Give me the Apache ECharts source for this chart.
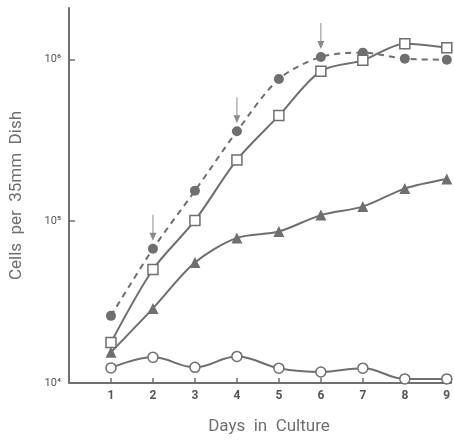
<!DOCTYPE html>
<html>
<head>
<meta charset="utf-8">
<script src="https://cdn.jsdelivr.net/npm/echarts@6/dist/echarts.min.js"></script>
<style>
    html, body { margin: 0; padding: 0; background: #fff; }
    #chart { width: 454px; height: 440px; }
</style>
</head>
<body>
<div id="chart"></div>
<script>
// days in culture
const days = [1, 2, 3, 4, 5, 6, 7, 8, 9];
// cells per dish
const filledCircles = [26000, 67500, 154000, 359000, 755000, 1035000, 1100000, 1010000, 995000];
const openSquares = [17800, 50300, 101000, 239000, 449000, 845000, 986000, 1250000, 1180000];
const filledTriangles = [15500, 28900, 55500, 78800, 86300, 109000, 123000, 159000, 182000];
const openCircles = [12400, 14400, 12500, 14600, 12350, 11700, 12350, 10600, 10600];
// days marked with an arrow (above the filled circles)
const arrowDays = [2, 4, 6];
const yTicks = [10000, 100000, 1000000];
const yTickLabels = ['10⁴', '10⁵', '10⁶'];

const gray = '#6f6f6f';
const font = 'Roboto';

const pairs = arr => days.map((d, i) => [d, arr[i]]);

const chart = echarts.init(document.getElementById('chart'), null, { renderer: 'canvas' });

chart.setOption({
    backgroundColor: '#fff',
    animation: false,
    grid: {
        left: 67.5,
        right: 1,
        top: 8,
        bottom: 52
    },
    xAxis: {
        type: 'value',
        min: 0,
        max: 9.1,
        interval: 1,
        name: 'Days  in  Culture',
        nameLocation: 'middle',
        nameGap: 35,
        nameTextStyle: {
            color: gray,
            fontFamily: font,
            fontSize: 17,
            padding: [0, 0, 0, 18]
        },
        axisLine: { lineStyle: { color: gray, width: 2 } },
        axisTick: { inside: true, length: 5, lineStyle: { color: gray, width: 1.5 } },
        splitLine: { show: false },
        axisLabel: {
            color: '#555',
            fontFamily: font,
            fontSize: 12,
            fontWeight: 'bold',
            margin: 7,
            formatter: v => (Number.isInteger(v) && v > 0 ? String(v) : '')
        }
    },
    yAxis: {
        type: 'log',
        logBase: 10,
        min: 10000,
        max: 2076000,
        offset: 4,
        name: 'Cells  per  35mm  Dish',
        nameLocation: 'middle',
        nameGap: 40,
        nameRotate: 90,
        nameTextStyle: {
            color: gray,
            fontFamily: font,
            fontSize: 17
        },
        axisLine: { show: true, lineStyle: { color: gray, width: 2 } },
        axisTick: {
            show: true,
            inside: true,
            length: 6,
            customValues: yTicks,
            lineStyle: { color: gray, width: 1.5 }
        },
        splitLine: { show: false },
        axisLabel: {
            color: '#555',
            fontFamily: font,
            fontSize: 11,
            margin: 4,
            customValues: yTicks,
            formatter: v => yTickLabels[Math.round(Math.log10(v)) - 4] || ''
        }
    },
    series: [
        {
            type: 'line',
            data: pairs(filledCircles),
            smooth: 0.3,
            symbol: 'circle',
            symbolSize: 10,
            itemStyle: { color: gray },
            lineStyle: { color: gray, width: 2, type: [6, 5] },
            z: 3
        },
        {
            type: 'line',
            data: pairs(openSquares),
            smooth: 0.3,
            symbol: 'rect',
            symbolSize: 10,
            itemStyle: { color: '#fff', borderColor: gray, borderWidth: 1.5 },
            lineStyle: { color: gray, width: 2 },
            z: 4
        },
        {
            type: 'line',
            data: pairs(filledTriangles),
            smooth: 0.3,
            symbol: 'triangle',
            symbolSize: 11,
            itemStyle: { color: gray },
            lineStyle: { color: gray, width: 2 },
            z: 3
        },
        {
            type: 'line',
            data: pairs(openCircles),
            smooth: 0.4,
            symbol: 'circle',
            symbolSize: 10,
            itemStyle: { color: '#fff', borderColor: gray, borderWidth: 1.5 },
            lineStyle: { color: gray, width: 2 },
            z: 3
        },
        {
            // arrows pointing at the filled circles
            type: 'scatter',
            data: arrowDays.map(d => [d, filledCircles[days.indexOf(d)]]),
            symbol: 'path://M3,0 L4,0 L4,18 L7,18 L3.5,26 L0,18 L3,18 Z',
            symbolSize: [7, 26],
            symbolOffset: [0, -21],
            itemStyle: { color: gray },
            silent: true,
            z: 5
        }
    ]
});
</script>
</body>
</html>
